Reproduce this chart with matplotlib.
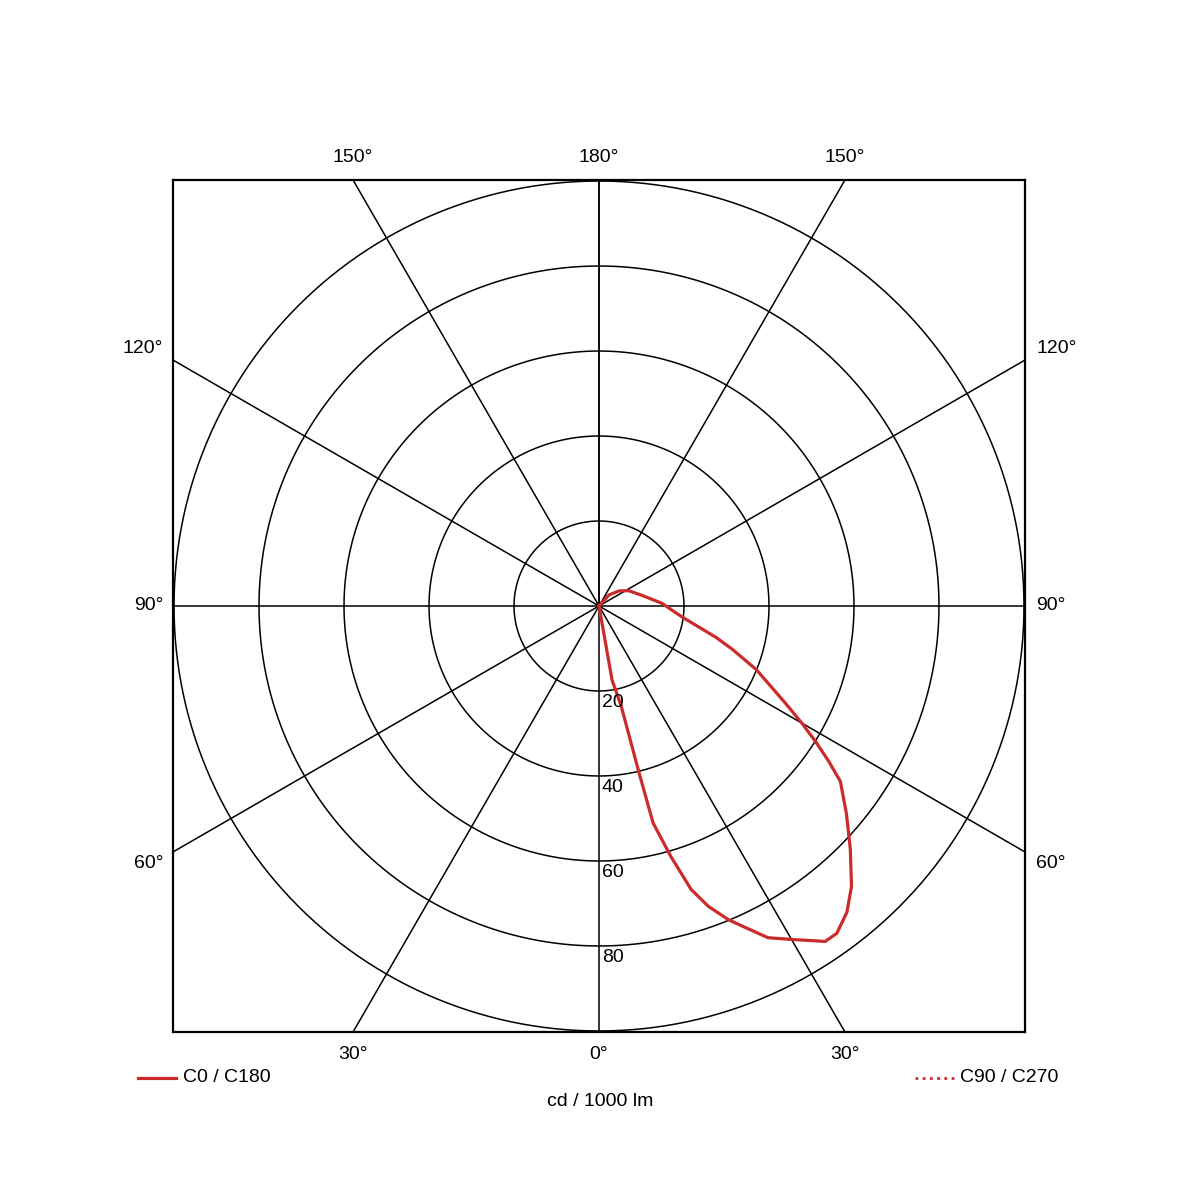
import numpy as np
import matplotlib.pyplot as plt
from matplotlib.lines import Line2D

plt.rcParams['font.family'] = ['Liberation Sans', 'DejaVu Sans']

# photometric data, plane C0 / C180 (gamma in degrees, I in cd/1000 lm)
gamma_c0 = [0, 10, 12.5, 13.5, 14, 16, 18, 20, 22.5, 25, 27, 30, 34, 36, 39, 42,
            46, 50, 54, 56, 58, 60, 62.5, 68, 72, 75, 82.5, 92.5, 104, 117, 127,
            138, 150]
I_c0 = [0, 17.7, 24.0, 40.4, 52.6, 61.3, 70.1, 75.2, 80.0, 84.0, 87.6, 90.6,
        95.2, 95.2, 92.7, 88.8, 82.2, 76.0, 70.2, 65.1, 60.0, 55.1, 49.4, 39.9,
        33.0, 28.5, 19.7, 14.8, 10.4, 7.9, 5.9, 3.5, 0]

rings = [20, 40, 60, 80, 100]
spokes = [30, 60, 90, 120, 150, 180]
ring_labels = ['20', '40', '60', '80']

RMAX = 100.24
red = '#cc2b2b'

#------------------------------------------------
def polar_xy(g, r):
    """ gamma measured from nadir (pointing down), C0 to the right """
    g = np.radians(np.asarray(g, dtype=float))
    r = np.asarray(r, dtype=float)
    return r*np.sin(g), -r*np.cos(g)


fig = plt.figure(figsize=(12, 12), dpi=100)
ax = fig.add_axes([173/1200, 168/1200, 852/1200, 852/1200])
ax.set_xlim(-RMAX, RMAX)
ax.set_ylim(-RMAX, RMAX)
ax.set_aspect('equal')
ax.set_xticks([])
ax.set_yticks([])
for s in ax.spines.values():
    s.set_linewidth(1.6)

# rings
t = np.linspace(0, 2*np.pi, 721)
for r in rings:
    ax.plot(r*np.cos(t), r*np.sin(t), color='black', lw=1.1)

# spokes, both sides, clipped by the box
for g in spokes:
    for side in (1, -1):
        x, y = polar_xy([0, side*g], [0, 300])
        ax.plot([0, x[1]], [0, y[1]], color='black', lw=1.1)
ax.plot([0, 0], [-RMAX, 0], color='black', lw=1.1)

# ring values
for r, lab in zip(rings, ring_labels):
    ax.text(0.7, -r - 0.6, lab, ha='left', va='top', fontsize=14)

# angle labels around the box
fs = 14
off = 5.4
edge = RMAX*np.tan(np.radians(30))
for x, lab in [(-edge, '150°'), (0, '180°'), (edge, '150°')]:
    ax.text(x, RMAX + off, lab, ha='center', va='center', fontsize=fs)
for x, lab in [(-edge, '30°'), (0, '0°'), (edge, '30°')]:
    ax.text(x, -RMAX - off, lab, ha='center', va='center', fontsize=fs)
for y, lab in [(edge + 2.8, '120°'), (0, '90°'), (-edge - 2.6, '60°')]:
    ax.text(-RMAX - 2.3, y, lab, ha='right', va='center', fontsize=fs)
    ax.text(RMAX + 2.6, y, lab, ha='left', va='center', fontsize=fs)

# curve C0 / C180
xc, yc = polar_xy(gamma_c0, I_c0)
ax.plot(xc, yc, color=red, lw=2.3, solid_joinstyle='miter')

# legend and unit
yl = 1 - 1078/1200
fig.add_artist(Line2D([138/1200, 176/1200], [yl, yl], color=red, lw=2.3,
                      transform=fig.transFigure))
fig.text(183/1200, yl, 'C0 / C180', ha='left', va='center', fontsize=fs)
fig.add_artist(Line2D([915/1200, 955/1200], [yl, yl], color=red, lw=2.0,
                      linestyle=(0, (1, 1.6)), transform=fig.transFigure))
fig.text(960/1200, yl, 'C90 / C270', ha='left', va='center', fontsize=fs)
fig.text(600/1200, 1 - 1102/1200, 'cd / 1000 lm', ha='center', va='center',
         fontsize=fs)

fig.savefig('out.png', dpi=100, facecolor='white')
